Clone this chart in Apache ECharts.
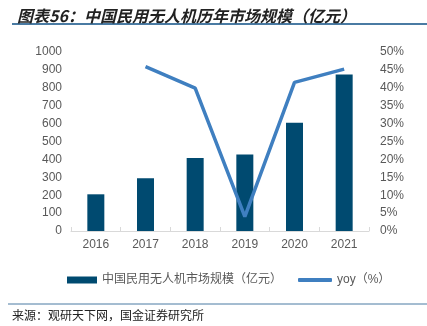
<!DOCTYPE html>
<html><head><meta charset="utf-8">
<script src="https://cdn.jsdelivr.net/npm/echarts@6/dist/echarts.min.js"></script>
<style>html,body{margin:0;padding:0;background:#fff}#c{width:427px;height:326px}</style>
</head><body><div id="c"></div>
<script>
const categories = ['2016','2017','2018','2019','2020','2021'];
const marketSize = [205, 294, 408, 428, 605, 875];
const yoy = [null, 45.9, 39.9, 4.0, 41.5, 45.2];
const leftTicks = ['0','100','200','300','400','500','600','700','800','900','1000'];
const rightTicks = ['0%','5%','10%','15%','20%','25%','30%','35%','40%','45%','50%'];

const FF = '"Liberation Sans", Arial, "Noto Sans CJK SC", sans-serif';
const chart = echarts.init(document.getElementById('c'));
chart.setOption({
  animation: false,
  backgroundColor: '#fff',
  title: {
    text: '图表56：中国民用无人机历年市场规模（亿元）',
    left: 12, top: 3,
    textStyle: { fontFamily: '"Noto Sans CJK SC", sans-serif', fontStyle: 'italic', fontWeight: 'bold', fontSize: 16, color: '#222' }
  },
  graphic: [
    { type: 'line', shape: { x1: 12, y1: 24, x2: 427, y2: 24 }, style: { stroke: '#4a7ba3', lineWidth: 2 } },
    { type: 'line', shape: { x1: 8, y1: 304, x2: 427, y2: 304 }, style: { stroke: '#4a7ba3', lineWidth: 1 } },
    { type: 'text', left: 12, top: 309, style: { text: '来源：观研天下网，国金证券研究所', font: '12px "Noto Sans CJK SC", sans-serif', fill: '#222' } }
  ],
  legend: [
    { data: [{ name: '中国民用无人机市场规模（亿元）', icon: 'rect' }], left: 62, top: 269, itemWidth: 30, itemHeight: 7, itemGap: 5,
      textStyle: { fontFamily: FF, fontSize: 12, color: '#595959' } },
    { data: [{ name: 'yoy（%）', icon: 'roundRect' }], left: 293, top: 269, itemWidth: 34, itemHeight: 4,
      textStyle: { fontFamily: FF, fontSize: 12, color: '#595959' } }
  ],
  grid: { left: 71, right: 58, top: 52, bottom: 95 },
  xAxis: {
    type: 'category', data: categories,
    axisLine: { lineStyle: { color: '#d9d9d9' } },
    axisTick: { show: true, length: 4, inside: true, lineStyle: { color: '#d9d9d9' } },
    axisLabel: { color: '#595959', fontFamily: FF, fontSize: 12, margin: 8 }
  },
  yAxis: [
    { type: 'value', min: 0, max: 1000, interval: 100,
      splitLine: { show: false }, axisLine: { show: false }, axisTick: { show: false },
      axisLabel: { color: '#595959', fontFamily: FF, fontSize: 12, margin: 9,
        formatter: v => leftTicks[Math.round(v/100)] } },
    { type: 'value', min: 0, max: 50, interval: 5,
      splitLine: { show: false }, axisLine: { show: false }, axisTick: { show: false },
      axisLabel: { color: '#595959', fontFamily: FF, fontSize: 12, margin: 11,
        formatter: v => rightTicks[Math.round(v/5)] } }
  ],
  series: [
    { name: '中国民用无人机市场规模（亿元）', type: 'bar', data: marketSize, barWidth: 17,
      itemStyle: { color: '#004a70' } },
    { name: 'yoy（%）', type: 'line', yAxisIndex: 1, data: yoy, showSymbol: false, symbol: 'none',
      lineStyle: { color: '#3f7fc0', width: 3.5 }, itemStyle: { color: '#3f7fc0' } }
  ]
});
</script></body></html>
